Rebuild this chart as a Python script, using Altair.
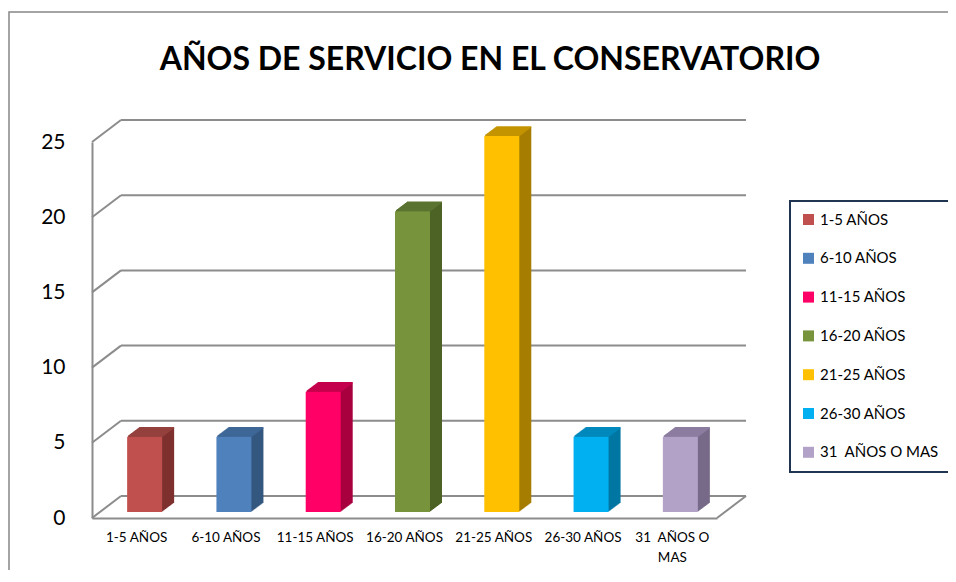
import altair as alt
import pandas as pd

# ---- data ----
categories = ["1-5 AÑOS", "6-10 AÑOS", "11-15 AÑOS", "16-20 AÑOS",
              "21-25 AÑOS", "26-30 AÑOS", "31  AÑOS O MAS"]
values = [5, 5, 8, 20, 25, 5, 5]
tick_values = [0, 5, 10, 15, 20, 25]
title_text = "AÑOS DE SERVICIO EN EL CONSERVATORIO"

# ---- styles ----
front_colors = ["#C0504D", "#4F81BD", "#FF0066", "#77933C", "#FFC000", "#00B0F0", "#B2A2C7"]
side_colors = ["#7E302E", "#34577F", "#A8003F", "#4D6225", "#A67D00", "#0076A3", "#766A88"]
top_colors = ["#94403D", "#3E6796", "#C4004C", "#5B7330", "#C49400", "#0089BD", "#8B7DA0"]
GRID = "#8C8C8C"
FONT = "Lato"

W, H = 625, 376          # front plane of the plot
DX, DY = 29, 22          # depth of the 3D walls
BX, BY = 8, 6            # bar position inside the depth
EX, EY = 12, 9           # bar extrusion
BAR = 35

df = pd.DataFrame({"cat": categories, "val": values})
grid_df = pd.DataFrame({"v": tick_values})
one = pd.DataFrame({"a": [0]})

X = alt.X("cat:N", sort=categories,
          scale=alt.Scale(domain=categories, paddingInner=0, paddingOuter=0),
          axis=alt.Axis(title=None, labelAngle=0, ticks=False, labelFontSize=13.5,
                        labelFont=FONT, labelColor="black", labelPadding=12,
                        labelLineHeight=20, domainColor=GRID, domainWidth=2,
                        labelExpr="indexof(datum.label, 'MAS') > 0 ? ['31\u00a0 AÑOS O', 'MAS'] : datum.label"))
yscale = alt.Scale(domain=[0, 25], nice=False, zero=True)
yaxis = alt.Axis(title=None, values=tick_values, ticks=False, grid=False, labelFontSize=21,
                 labelFont=FONT, labelColor="black", labelPadding=27,
                 domainColor=GRID, domainWidth=2)

layers = []

# outer frame
layers.append(alt.Chart(one).mark_rect(filled=False, stroke="#878787", strokeWidth=1.5).encode(
    x=alt.value(-83), x2=alt.value(W + 400), y=alt.value(-130), y2=alt.value(H + 300)))

# back wall gridlines
layers.append(alt.Chart(grid_df).mark_rule(color=GRID, strokeWidth=2, yOffset=-DY).encode(
    y=alt.Y("v:Q", scale=yscale, axis=yaxis), x=alt.value(DX), x2=alt.value(W + DX)))
# side wall diagonals
layers.append(alt.Chart(grid_df).mark_rule(color=GRID, strokeWidth=2, y2Offset=-DY).encode(
    y=alt.Y("v:Q", scale=yscale, axis=yaxis), y2=alt.Y2("v:Q"), x=alt.value(0), x2=alt.value(DX)))
# floor right diagonal
layers.append(alt.Chart(one).mark_rule(color=GRID, strokeWidth=2, y2Offset=-DY).encode(
    y=alt.datum(0, scale=yscale), y2=alt.datum(0), x=alt.value(W), x2=alt.value(W + DX)))

Y = alt.Y("val:Q", scale=yscale, axis=yaxis)

# bar sides (sweep)
for i in range(1, EX + 1):
    dy = i * EY / EX
    layers.append(alt.Chart(df).mark_bar(size=BAR, xOffset=BX + i, yOffset=-BY - dy,
                                         y2Offset=-BY - dy).encode(
        x=X, y=Y,
        color=alt.Color("cat:N", scale=alt.Scale(domain=categories, range=side_colors), legend=None)))
# bar tops
for i in range(1, EX + 1):
    dy = i * EY / EX
    layers.append(alt.Chart(df).mark_tick(size=BAR, thickness=1.6, xOffset=BX + i,
                                          yOffset=-BY - dy, opacity=1).encode(
        x=X, y=Y,
        color=alt.Color("cat:N", scale=alt.Scale(domain=categories, range=top_colors), legend=None)))
# bar fronts
layers.append(alt.Chart(df).mark_bar(size=BAR, xOffset=BX, yOffset=-BY, y2Offset=-BY).encode(
    x=X, y=Y,
    color=alt.Color("cat:N", scale=alt.Scale(domain=categories, range=front_colors),
                    legend=alt.Legend(title=None, orient="none", legendX=698, legendY=59,
                                      symbolType="square", symbolSize=121, symbolStrokeWidth=0,
                                      labelFontSize=15, labelFont=FONT, labelColor="black",
                                      rowPadding=22.8, padding=11, labelOffset=4, labelLimit=300,
                                      labelExpr="replace(datum.label, '  ', '\u00a0 ')",
                                      strokeColor="#1F3552"))))

# title
layers.append(alt.Chart(one).mark_text(text=title_text, fontSize=32, fontWeight="bold",
                                       font=FONT, color="black", baseline="alphabetic").encode(
    x=alt.value(398), y=alt.value(-72)))

chart = alt.layer(*layers).resolve_scale(color="independent").properties(
    width=W, height=H,
    autosize=alt.AutoSizeParams(type="none"),
    padding={"left": 84, "top": 134, "right": 231, "bottom": 52},
).configure_view(stroke=None).configure_legend(strokeWidth=2)

chart.save("out.html", embed_options={"renderer": "svg", "actions": False})
